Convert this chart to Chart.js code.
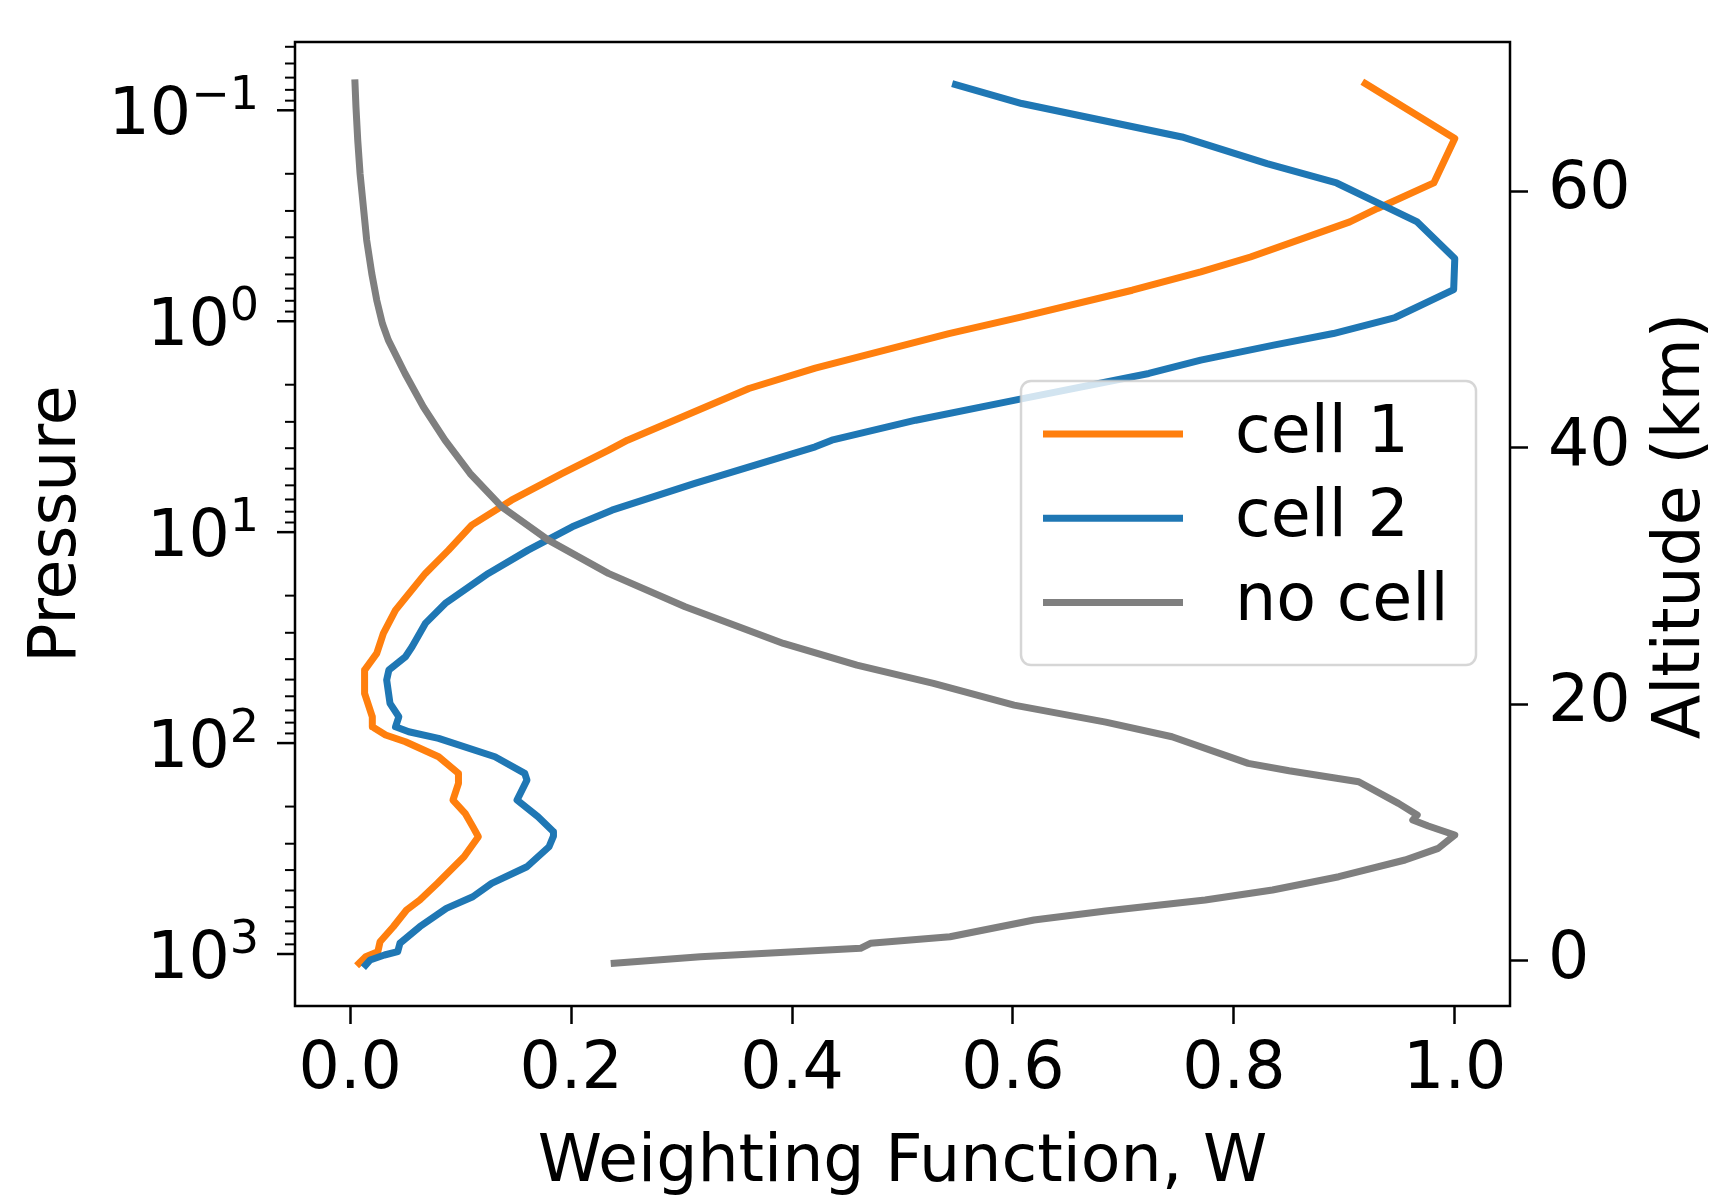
<!DOCTYPE html>
<html>
<head>
<meta charset="utf-8">
<script src="https://cdn.jsdelivr.net/npm/chart.js@4.4.1/dist/chart.umd.min.js"></script>
<style>
html,body{margin:0;padding:0;background:#ffffff;}
canvas{display:block;}
</style>
</head>
<body>
<canvas id="chart" width="1712" height="1198"></canvas>
<script>
// ---------------- data ----------------
const seriesLabels = ['cell 1', 'cell 2', 'no cell'];

// cell 1 : weighting function and pressure (hPa)
const cell1W = [0.919,1.000,0.981,0.930,0.905,0.815,0.770,0.708,0.608,0.542,0.421,0.361,0.251,0.234,0.192,0.146,0.110,0.089,0.068,0.041,0.030,0.024,0.013,0.013,0.020,0.020,0.032,0.050,0.080,0.098,0.098,0.093,0.104,0.111,0.116,0.103,0.079,0.063,0.051,0.039,0.027,0.025,0.014,0.008];
const cell1P = [0.0747,0.136,0.221,0.292,0.338,0.496,0.584,0.713,0.954,1.144,1.67,2.084,3.664,4.088,5.27,7.054,9.265,12.17,15.69,23.43,30.21,37.57,45.08,58.15,75.06,83.7,91.6,98.6,116.1,139.2,155.2,186.3,215.4,249.3,278.1,345.9,462.2,554.8,618.7,742.6,874.5,975.2,1030,1107];

// cell 2
const cell2W = [0.548,0.608,0.753,0.830,0.893,0.966,1.000,0.999,0.946,0.890,0.836,0.770,0.723,0.602,0.512,0.436,0.421,0.312,0.237,0.201,0.161,0.125,0.086,0.068,0.056,0.050,0.035,0.033,0.036,0.044,0.041,0.053,0.080,0.131,0.158,0.160,0.151,0.170,0.184,0.184,0.180,0.160,0.128,0.111,0.087,0.063,0.045,0.043,0.031,0.018,0.014];
const cell2P = [0.0755,0.0929,0.1338,0.1789,0.2211,0.3383,0.5044,0.7076,0.9605,1.144,1.299,1.53,1.769,2.368,2.946,3.664,3.941,5.877,7.865,9.438,12.17,15.69,21.77,27.08,34.96,38.99,45.08,50.28,64.83,75.06,83.7,88.4,95.0,116.1,139.2,149.8,186.3,223.6,263.3,275.9,310,385.8,462.2,535.1,607.5,742.6,889.8,975.2,1011,1067,1127];

// no cell
const noCellW = [0.0043,0.0052,0.0068,0.0089,0.0119,0.0149,0.0195,0.0240,0.0291,0.0345,0.0496,0.0662,0.0858,0.1085,0.1372,0.1794,0.2337,0.3032,0.3922,0.4587,0.528,0.601,0.684,0.744,0.813,0.850,0.913,0.949,0.966,0.962,0.976,1.000,0.985,0.955,0.895,0.835,0.774,0.684,0.619,0.543,0.471,0.462,0.317,0.239];
const noCellP = [0.0742,0.0965,0.1387,0.1995,0.2872,0.413,0.594,0.795,1.025,1.23,1.769,2.548,3.664,5.27,7.588,10.91,15.69,22.59,33.69,42.69,52.13,66.06,79.55,93.35,124.8,135.3,152.5,193.1,219.4,231.7,247.4,272.9,315.6,358.4,430.1,497.4,554.8,625.5,690.2,827.9,889.8,939.7,1030,1107];

// axes
const xTickValues = [0.0, 0.2, 0.4, 0.6, 0.8, 1.0];
const altTickValues = [0, 20, 40, 60];
const pressureDecades = [-2, -1, 0, 1, 2, 3];
const X_MIN = -0.05, X_MAX = 1.05;
const P_MIN = 0.04745, P_MAX = 1764;
const ALT_MIN = -3.52, ALT_MAX = 71.64;

// ---------------- styling ----------------
const FONT = 'DejaVu Sans';
const FS = 65;
const EXP_FS = 46;
const colors = ['#ff7f0e', '#1f77b4', '#7f7f7f'];
const LW = 7;

Chart.defaults.font.family = FONT;
Chart.defaults.color = '#000000';

function toPoints(W, P) { return W.map((w, i) => ({ x: w, y: P[i] })); }

function logTickList() {
  const out = [];
  pressureDecades.forEach(e => {
    for (let m = 1; m <= 9; m++) {
      const v = Number((m * Math.pow(10, e)).toPrecision(6));
      if (v >= P_MIN && v <= P_MAX) out.push({ value: v, major: m === 1 });
    }
  });
  return out;
}

function roundRect(ctx, x, y, w, h, r) {
  ctx.beginPath();
  ctx.moveTo(x + r, y);
  ctx.lineTo(x + w - r, y);
  ctx.arcTo(x + w, y, x + w, y + r, r);
  ctx.lineTo(x + w, y + h - r);
  ctx.arcTo(x + w, y + h, x + w - r, y + h, r);
  ctx.lineTo(x + r, y + h);
  ctx.arcTo(x, y + h, x, y + h - r, r);
  ctx.lineTo(x, y + r);
  ctx.arcTo(x, y, x + r, y, r);
  ctx.closePath();
}

function noEdgePadding(s) {
  s.paddingTop = 0; s.paddingBottom = 0; s.paddingLeft = 0; s.paddingRight = 0;
}

const decorPlugin = {
  id: 'decor',
  afterDatasetsDraw(chart) {
    // legend box inside the axes (middle-right)
    const ctx = chart.ctx;
    const a = chart.chartArea;
    const bx = a.right - 489, by = a.top + 339, bw = 455, bh = 284;
    ctx.save();
    roundRect(ctx, bx, by, bw, bh, 10);
    ctx.fillStyle = 'rgba(255,255,255,0.8)';
    ctx.fill();
    ctx.lineWidth = 2.5;
    ctx.strokeStyle = 'rgba(204,204,204,0.8)';
    ctx.stroke();
    ctx.font = FS + 'px "' + FONT + '"';
    ctx.textAlign = 'left';
    ctx.textBaseline = 'middle';
    chart.data.datasets.forEach((ds, i) => {
      const cy = by + 53 + i * 84.3;
      ctx.strokeStyle = ds.borderColor;
      ctx.lineWidth = LW;
      ctx.lineCap = 'butt';
      ctx.beginPath();
      ctx.moveTo(bx + 22, cy);
      ctx.lineTo(bx + 162, cy);
      ctx.stroke();
      ctx.fillStyle = '#000';
      ctx.fillText(ds.label, bx + 214, cy + 1);
    });
    ctx.restore();
  },
  afterDraw(chart) {
    const ctx = chart.ctx;
    const a = chart.chartArea;
    const y = chart.scales.y;
    ctx.save();
    // frame (spines)
    ctx.strokeStyle = '#000';
    ctx.lineWidth = 2.5;
    ctx.strokeRect(a.left, a.top, a.right - a.left, a.bottom - a.top);
    // log-axis ticks (major + minor) and mathtext-like labels
    y.ticks.forEach(t => {
      const py = y.getPixelForValue(t.value);
      const lg = Math.log10(t.value);
      const major = Math.abs(lg - Math.round(lg)) < 1e-6;
      const len = major ? 18 : 10;
      ctx.lineWidth = major ? 2.5 : 2;
      ctx.strokeStyle = '#000';
      ctx.beginPath();
      ctx.moveTo(a.left - len, py);
      ctx.lineTo(a.left, py);
      ctx.stroke();
      if (major) {
        const e = Math.round(lg);
        const exp = e < 0 ? '\u2212' + (-e) : String(e);
        ctx.font = FS + 'px "' + FONT + '"';
        const w1 = ctx.measureText('10').width;
        ctx.font = EXP_FS + 'px "' + FONT + '"';
        const w2 = ctx.measureText(exp).width;
        const right = a.left - 18 - 18;
        const x0 = right - w1 - w2;
        ctx.fillStyle = '#000';
        ctx.textAlign = 'left';
        ctx.textBaseline = 'alphabetic';
        ctx.font = FS + 'px "' + FONT + '"';
        ctx.fillText('10', x0, py + 24);
        ctx.font = EXP_FS + 'px "' + FONT + '"';
        ctx.fillText(exp, x0 + w1, py - 1);
      }
    });
    // right axis title (reads bottom-to-top)
    const y2 = chart.scales.y2;
    ctx.translate(y2.right - 30, (a.top + a.bottom) / 2 + 2);
    ctx.rotate(-Math.PI / 2);
    ctx.font = FS + 'px "' + FONT + '"';
    ctx.textAlign = 'center';
    ctx.textBaseline = 'middle';
    ctx.fillStyle = '#000';
    ctx.fillText('Altitude (km)', 0, 0);
    ctx.restore();
  }
};

const datasets = [
  { label: seriesLabels[0], data: toPoints(cell1W, cell1P), borderColor: colors[0], order: 3 },
  { label: seriesLabels[1], data: toPoints(cell2W, cell2P), borderColor: colors[1], order: 2 },
  { label: seriesLabels[2], data: toPoints(noCellW, noCellP), borderColor: colors[2], order: 1 }
].map(d => Object.assign(d, {
  showLine: true, pointRadius: 0, pointHoverRadius: 0, borderWidth: LW,
  tension: 0, borderJoinStyle: 'round', borderCapStyle: 'square',
  backgroundColor: d.borderColor, fill: false, xAxisID: 'x', yAxisID: 'y'
}));

new Chart(document.getElementById('chart'), {
  type: 'scatter',
  data: { datasets },
  plugins: [decorPlugin],
  options: {
    responsive: false,
    animation: false,
    devicePixelRatio: 1,
    layout: { padding: { top: 42, left: 0, right: 0, bottom: 0 } },
    plugins: { legend: { display: false }, tooltip: { enabled: false } },
    scales: {
      x: {
        type: 'linear', position: 'bottom', min: X_MIN, max: X_MAX,
        afterBuildTicks: s => { s.ticks = xTickValues.map(v => ({ value: v })); },
        afterFit: s => { s.height = 192; noEdgePadding(s); },
        grid: { display: true, drawOnChartArea: false, drawTicks: true, tickLength: 18, tickWidth: 2.5, tickColor: '#000' },
        border: { display: false },
        ticks: { font: { size: FS }, color: '#000', padding: 8, maxRotation: 0, callback: v => Number(v).toFixed(1) },
        title: { display: true, text: 'Weighting Function, W', font: { size: FS, lineHeight: 1.05 }, color: '#000', padding: { top: 0, bottom: 0 } }
      },
      y: {
        type: 'logarithmic', position: 'left', reverse: true, min: P_MIN, max: P_MAX, bounds: 'data',
        afterBuildTicks: s => { s.ticks = logTickList(); },
        afterFit: s => { s.width = 295; noEdgePadding(s); },
        grid: { display: false },
        border: { display: false },
        ticks: { display: false },
        title: { display: true, text: 'Pressure', font: { size: FS }, color: '#000', padding: { top: 19, bottom: 0 } }
      },
      y2: {
        type: 'linear', position: 'right', min: ALT_MIN, max: ALT_MAX,
        afterBuildTicks: s => { s.ticks = altTickValues.map(v => ({ value: v })); },
        afterFit: s => { s.width = 202; noEdgePadding(s); },
        grid: { display: true, drawOnChartArea: false, drawTicks: true, tickLength: 18, tickWidth: 2.5, tickColor: '#000' },
        border: { display: false },
        ticks: { font: { size: FS }, color: '#000', padding: 20, callback: v => String(v) }
      }
    }
  }
});
</script>
</body>
</html>
